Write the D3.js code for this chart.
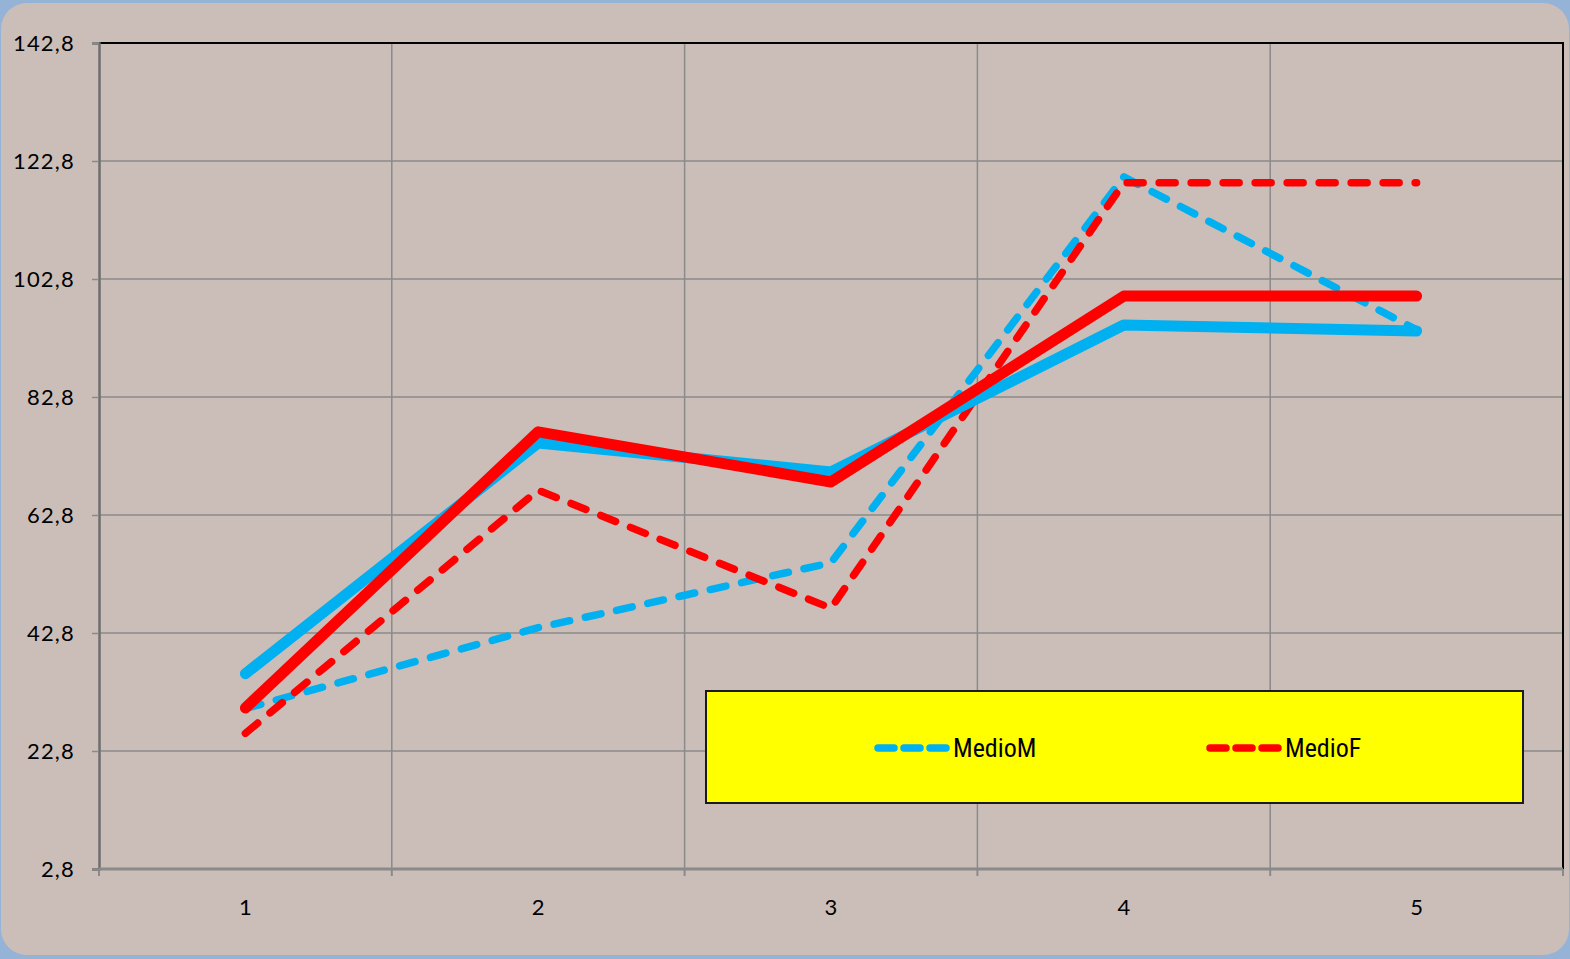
<!DOCTYPE html>
<html>
<head>
<meta charset="utf-8">
<script src="https://cdn.jsdelivr.net/npm/d3@7"></script>
<style>
  html, body { margin: 0; padding: 0; background: #ffffff; }
  svg { display: block; }
</style>
</head>
<body>
<div id="chart"></div>
<script>
// Chart data
const categories = ["1", "2", "3", "4", "5"];
const yTicks = [2.8, 22.8, 42.8, 62.8, 82.8, 102.8, 122.8, 142.8];
const yTickLabels = ["2,8", "22,8", "42,8", "62,8", "82,8", "102,8", "122,8", "142,8"];

const solidM = [35.9, 75.0, 70.1, 95.0, 94.0];
const solidF = [30.1, 76.9, 68.4, 99.9, 99.9];
const medioM = [30.0, 43.7, 54.7, 120.1, 94.2];
const medioF = [25.8, 67.0, 47.0, 119.1, 119.1];

const legendNames = ["MedioM", "MedioF"];

// Dimensions
const W = 1570, H = 959;
const margin = {top: 43, right: 7, bottom: 90, left: 99},
      width = W - margin.left - margin.right,
      height = H - margin.top - margin.bottom;

const svg = d3.select("#chart")
              .append("svg")
              .attr("width", W)
              .attr("height", H);

// Outer frame
svg.append("rect")
   .attr("width", W).attr("height", H)
   .attr("fill", "#95b3d7");
svg.append("rect")
   .attr("x", 1).attr("y", 3)
   .attr("width", W - 2).attr("height", H - 7)
   .attr("rx", 26).attr("ry", 26)
   .attr("fill", "#cbbeb9");

const g = svg.append("g")
             .attr("transform", `translate(${margin.left},${margin.top})`);

// Scales
const x = d3.scaleBand()
            .domain(categories)
            .range([0, width]);
const y = d3.scaleLinear()
            .domain([2.8, 142.8])
            .range([height, 0]);

// Horizontal gridlines
g.append("g")
 .selectAll("line")
 .data(yTicks.slice(1, -1))
 .enter()
 .append("line")
 .attr("x1", 0).attr("x2", width)
 .attr("y1", d => y(d)).attr("y2", d => y(d))
 .attr("stroke", "#8a8a8a")
 .attr("stroke-width", 1.5);

// Vertical gridlines at category boundaries
g.append("g")
 .selectAll("line")
 .data(categories.slice(1))
 .enter()
 .append("line")
 .attr("x1", d => x(d)).attr("x2", d => x(d))
 .attr("y1", 0).attr("y2", height)
 .attr("stroke", "#8a8a8a")
 .attr("stroke-width", 1.5);

// Top and right border (black)
g.append("path")
 .attr("d", `M0,0H${width}V${height}`)
 .attr("fill", "none")
 .attr("stroke", "#000")
 .attr("stroke-width", 2);

// Y axis
const yAxis = g.append("g")
               .call(d3.axisLeft(y)
                       .tickValues(yTicks)
                       .tickSize(7)
                       .tickPadding(17)
                       .tickFormat((d, i) => yTickLabels[i]));
yAxis.select(".domain").attr("stroke", "#6e6e6e").attr("stroke-width", 2.5);
yAxis.selectAll(".tick line").attr("stroke", "#8a8a8a").attr("stroke-width", 1.5);
yAxis.selectAll(".tick text")
     .style("font-family", "Lato, 'DejaVu Sans', sans-serif")
     .style("font-size", "22px")
     .style("letter-spacing", "1.2px")
     .attr("fill", "#000");

// X axis: ticks at category boundaries, labels at centres
const xAxisG = g.append("g")
                .attr("transform", `translate(0,${height})`);
xAxisG.append("line")
      .attr("x1", 0).attr("x2", width)
      .attr("stroke", "#8a8a8a")
      .attr("stroke-width", 3);
xAxisG.selectAll(".xtick")
      .data(categories.concat(["end"]))
      .enter()
      .append("line")
      .attr("class", "xtick")
      .attr("x1", (d, i) => i * x.bandwidth())
      .attr("x2", (d, i) => i * x.bandwidth())
      .attr("y1", 0).attr("y2", 7)
      .attr("stroke", "#8a8a8a")
      .attr("stroke-width", 2);
xAxisG.selectAll(".xlabel")
      .data(categories)
      .enter()
      .append("text")
      .attr("class", "xlabel")
      .attr("x", d => x(d) + x.bandwidth() / 2)
      .attr("y", 46)
      .attr("text-anchor", "middle")
      .style("font-family", "Lato, 'DejaVu Sans', sans-serif")
      .style("font-size", "22px")
      .attr("fill", "#000")
      .text(d => d);

// Lines
const line = d3.line()
               .x((d, i) => x(categories[i]) + x.bandwidth() / 2)
               .y(d => y(d));

const series = [
  {values: medioM, color: "#00b0f0", width: 7.5, dash: "16 16"},
  {values: medioF, color: "#ff0000", width: 7.5, dash: "16 16"},
  {values: solidM, color: "#00b0f0", width: 11, dash: null},
  {values: solidF, color: "#ff0000", width: 11, dash: null}
];

g.append("g")
 .selectAll("path")
 .data(series)
 .enter()
 .append("path")
 .attr("d", d => line(d.values))
 .attr("fill", "none")
 .attr("stroke", d => d.color)
 .attr("stroke-width", d => d.width)
 .attr("stroke-linecap", "round")
 .attr("stroke-linejoin", "round")
 .attr("stroke-dasharray", d => d.dash);

// Legend
const legend = svg.append("g")
                  .attr("transform", "translate(706,691)");
legend.append("rect")
      .attr("width", 817).attr("height", 112)
      .attr("fill", "#ffff00")
      .attr("stroke", "#1a1a1a")
      .attr("stroke-width", 2);

const legendItems = legend.selectAll(".item")
                          .data(legendNames)
                          .enter()
                          .append("g")
                          .attr("class", "item")
                          .attr("transform", (d, i) => `translate(${172 + i * 332},57)`);
legendItems.append("path")
           .attr("d", "M0,0H70")
           .attr("stroke", (d, i) => series[i].color)
           .attr("stroke-width", 7.5)
           .attr("stroke-linecap", "round")
           .attr("stroke-dasharray", "16 10");
legendItems.append("text")
           .attr("x", 75)
           .attr("y", 9)
           .style("font-family", "'Liberation Sans Narrow', 'Roboto Condensed', 'Open Sans', sans-serif")
           .style("font-size", "26px")
           .attr("fill", "#000")
           .text(d => d);
</script>
</body>
</html>
